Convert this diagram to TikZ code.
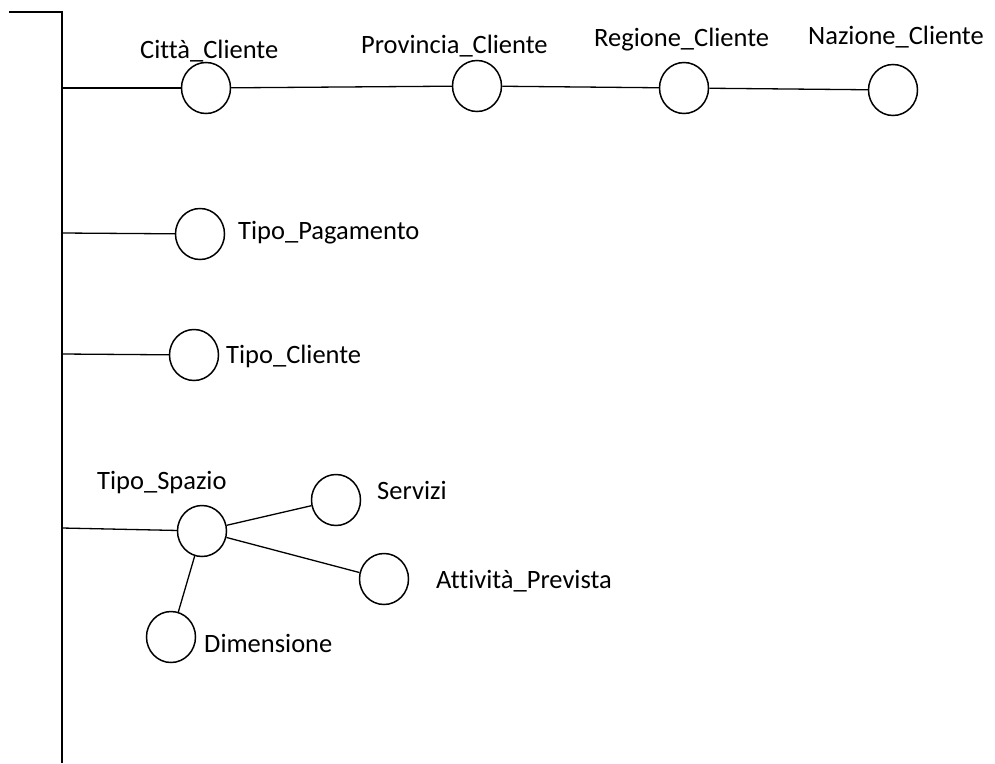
\documentclass[tikz,border=0pt]{standalone}
\usepackage{fontspec}
\setmainfont{Carlito}[Ligatures=NoCommon]
\usetikzlibrary{shapes.geometric}

\tikzset{
  attr/.style={ellipse, draw, line width=1.5pt, inner sep=0pt,
               minimum width=49pt, minimum height=51pt},
  link/.style={line width=1.3pt},
  lbl/.style={anchor=base west, inner sep=0pt,
              font=\fontsize{26.5}{30}\selectfont}
}

\begin{document}
\begin{tikzpicture}[x=1pt, y=-1pt]
  \useasboundingbox (0,0) rectangle (995,763);

  % fact spine
  \coordinate (top) at (9,12);
  \coordinate (corner) at (62,12);
  \coordinate (bottom) at (62,763);
  \draw[link] (top) -- (corner) -- (bottom);

  % customer geography hierarchy
  \node[attr] (citta) at (206,88) {};
  \node[attr] (prov)  at (477,86) {};
  \node[attr] (reg)   at (684,88) {};
  \node[attr] (naz)   at (893,90) {};
  \node[lbl] (lcitta) at (140,58) {Città\_Cliente};
  \node[lbl] (lprov)  at (361,53) {Provincia\_Cliente};
  \node[lbl] (lreg)   at (594,46) {Regione\_Cliente};
  \node[lbl] (lnaz)   at (808,44) {Nazione\_Cliente};
  \coordinate (s1) at (62,88);
  \draw[link] (s1) -- (citta);
  \draw[link] (citta) -- (prov);
  \draw[link] (prov) -- (reg);
  \draw[link] (reg) -- (naz);

  % payment type
  \node[attr] (pag) at (200,234) {};
  \node[lbl] (lpag) at (238,239) {Tipo\_Pagamento};
  \coordinate (s2) at (62,233);
  \draw[link] (s2) -- (pag);

  % customer type
  \node[attr] (cli) at (194,355) {};
  \node[lbl] (lcli) at (226,363) {Tipo\_Cliente};
  \coordinate (s3) at (62,354);
  \draw[link] (s3) -- (cli);

  % space type and its attributes
  \node[attr] (spazio) at (202,531) {};
  \node[attr] (serv)   at (336,500) {};
  \node[attr] (att)    at (384,579) {};
  \node[attr] (dim)    at (171,637) {};
  \node[lbl] (lspazio) at (97,489)  {Tipo\_Spazio};
  \node[lbl] (lserv)   at (377,499) {Servizi};
  \node[lbl] (latt)    at (436,588) {Attività\_Prevista};
  \node[lbl] (ldim)    at (204,652) {Dimensione};
  \coordinate (s4) at (62,528);
  \draw[link] (s4) -- (spazio);
  \draw[link] (spazio) -- (serv);
  \draw[link] (spazio) -- (att);
  \draw[link] (spazio) -- (dim);
\end{tikzpicture}
\end{document}
